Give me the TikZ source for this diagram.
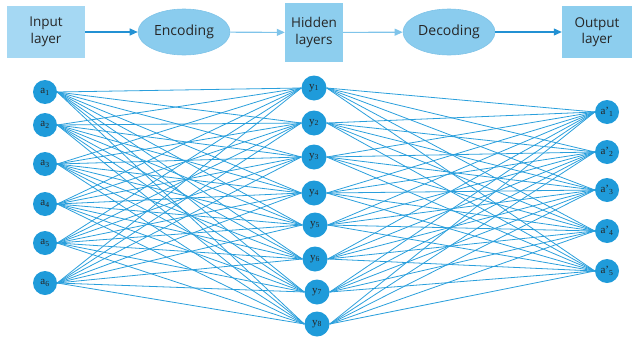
\documentclass[tikz,border=0pt]{standalone}
\usepackage{fontspec}
\setmainfont{Liberation Serif}
\newfontfamily\labelfont{Open Sans}
\usetikzlibrary{shapes.geometric,arrows.meta}
\definecolor{boxA}{HTML}{A5D8F3}
\definecolor{boxB}{HTML}{8DCEEE}
\definecolor{ellfill}{HTML}{8ACCEE}
\definecolor{ellline}{HTML}{7EC3E8}
\definecolor{neuron}{HTML}{1F9BDA}
\definecolor{wire}{HTML}{2A9FDC}
\definecolor{darkarrow}{HTML}{2391D3}
\definecolor{lightarrow}{HTML}{7FC4EA}
\definecolor{ink}{HTML}{262626}
\tikzset{
  stagebox/.style={rectangle, fill=#1, draw=none, align=center, inner sep=0pt,
    font=\labelfont\fontsize{13.5}{16.5}\selectfont, text=ink},
  stageell/.style={ellipse, fill=ellfill, draw=ellline, line width=0.6pt,
    minimum width=92pt, minimum height=46pt, inner sep=0pt,
    font=\labelfont\fontsize{14}{16}\selectfont, text=ink},
  flow/.style={line width=1.1pt, -{Triangle[length=8pt,width=7pt]}},
  neuronnode/.style={circle, fill=neuron, draw=none, minimum size=#1, inner sep=0pt,
    font=\fontsize{11}{13}\selectfont, text=ink},
  link/.style={wire, line width=0.8pt}
}
\begin{document}
\begin{tikzpicture}[x=1pt,y=-1pt]
\useasboundingbox (0,0) rectangle (636,340);

% stage pipeline
\node[stagebox=boxA, minimum width=78pt, minimum height=52pt] (inp) at (46,32) {Input\\layer};
\node[stageell] (enc) at (184,32) {Encoding};
\node[stagebox=boxB, minimum width=58pt, minimum height=59pt] (hid) at (314,32.5) {Hidden\\layers};
\node[stageell] (dec) at (449,32) {Decoding};
\node[stagebox=boxB, minimum width=70pt, minimum height=52pt] (out) at (597,32) {Output\\layer};

\draw[flow, darkarrow] (inp) -- (enc);
\draw[flow, lightarrow] (enc) -- (hid);
\draw[flow, lightarrow] (hid) -- (dec);
\draw[flow, darkarrow] (dec) -- (out);

% input neurons
\foreach \i/\yy in {1/92,2/125,3/164,4/204,5/243,6/283}
  \node[neuronnode=24pt] (a\i) at (45,\yy) {a\textsubscript{\i}};
% hidden neurons
\foreach \j/\xx/\yy in {1/314/88,2/314/123,3/314/157,4/314/193,5/315/225,6/315/259,7/317/292,8/317/324}
  \node[neuronnode=25pt] (y\j) at (\xx,\yy) {y\textsubscript{\j}};
% output neurons
\foreach \k/\yy in {1/112,2/152,3/190,4/231,5/271}
  \node[neuronnode=24pt] (b\k) at (607,\yy) {a'\textsubscript{\k}};

% full connections
\foreach \i in {1,...,6}
  \foreach \j in {1,...,8}
    \draw[link] (a\i.east) -- (y\j.west);
\foreach \j in {1,...,8}
  \foreach \k in {1,...,5}
    \draw[link] (y\j.east) -- (b\k.west);
\end{tikzpicture}
\end{document}
